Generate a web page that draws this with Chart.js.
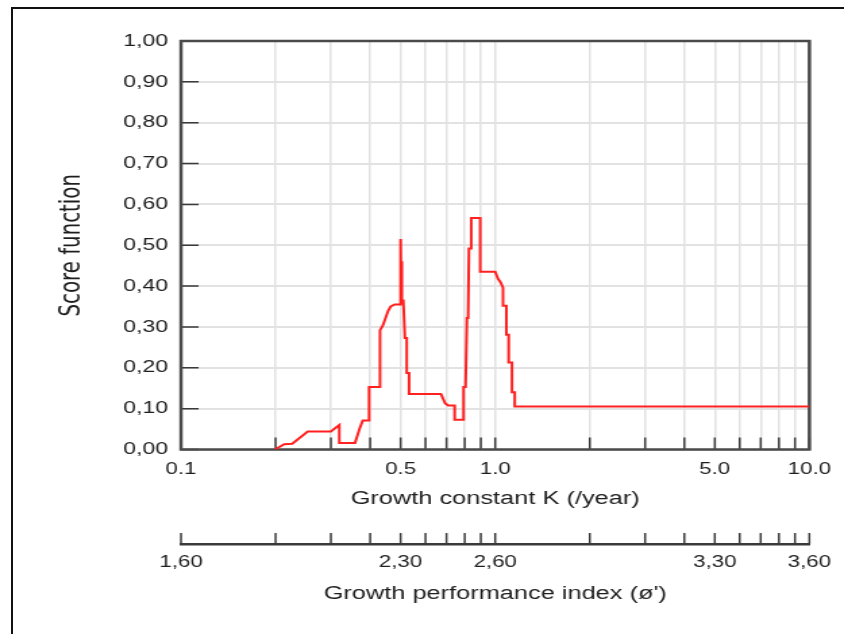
<!DOCTYPE html>
<html>
<head>
<meta charset="utf-8">
<script src="https://cdn.jsdelivr.net/npm/chart.js@4.4.1/dist/chart.umd.min.js"></script>
<style>
  html, body { margin: 0; padding: 0; background: #fff; }
  body { width: 844px; height: 634px; position: relative; overflow: hidden; }
  #frame { position: absolute; left: 11px; top: 7px; right: -10px; bottom: -10px;
           border-left: 2px solid #111; border-top: 2px solid #111; }
  /* the reference is stretched sideways, so the chart is drawn narrow and widened */
  #wrap { position: absolute; left: 0; top: 0; width: 625px; height: 634px;
          transform: scaleX(1.3504); transform-origin: 0 0; }
</style>
</head>
<body>
<div id="frame"></div>
<div id="wrap"><canvas id="c" width="625" height="634"></canvas></div>
<script>
// growth constant K (/year) and score function
const kValues = [0.199, 0.213, 0.226, 0.253, 0.300, 0.319, 0.319, 0.358, 0.371, 0.379,
  0.397, 0.397, 0.430, 0.430, 0.439, 0.446, 0.456, 0.465, 0.479, 0.499,
  0.500, 0.502, 0.503, 0.506, 0.510, 0.516, 0.523, 0.523, 0.532, 0.532,
  0.672, 0.693, 0.709, 0.743, 0.743, 0.793, 0.793, 0.805, 0.813, 0.820,
  0.825, 0.839, 0.839, 0.896, 0.896, 1.000, 1.021, 1.041, 1.059, 1.059,
  1.086, 1.086, 1.104, 1.104, 1.131, 1.131, 1.154, 1.154, 10];
const scoreValues = [0, 0.013, 0.014, 0.044, 0.044, 0.060, 0.016, 0.016, 0.053, 0.071,
  0.071, 0.153, 0.153, 0.292, 0.304, 0.318, 0.339, 0.350, 0.355, 0.355,
  0.515, 0.360, 0.461, 0.365, 0.365, 0.273, 0.273, 0.187, 0.187, 0.136,
  0.136, 0.113, 0.108, 0.108, 0.073, 0.073, 0.153, 0.153, 0.322, 0.322,
  0.492, 0.492, 0.567, 0.567, 0.435, 0.435, 0.418, 0.409, 0.396, 0.352,
  0.352, 0.281, 0.281, 0.213, 0.213, 0.140, 0.140, 0.105, 0.105];

// log axis grid positions and the labelled ones
const kGridValues = [0.1, 0.2, 0.3, 0.4, 0.5, 0.6, 0.7, 0.8, 0.9,
  1, 2, 3, 4, 5, 6, 7, 8, 9, 10];
const kTickValues = [0.1, 0.5, 1, 5, 10];
const kTickLabels = ['0.1', '0.5', '1.0', '5.0', '10.0'];
const phiTickLabels = ['1,60', '2,30', '2,60', '3,30', '3,60'];

const textColor = '#1e1e1e';
const gridColor = '#e2e2e2';
const axisColor = '#3a3a3a';
const sans = "'Liberation Sans', Arial, sans-serif";

function labelFor(value, labels) {
  const i = kTickValues.findIndex(v => Math.abs(v - value) / v < 1e-6);
  return i < 0 ? '' : labels[i];
}
function useGridTicks(scale) {
  scale.ticks = kGridValues.map(v => ({ value: v }));
}

// ticks that point into the plot, plus the plot frame
const innerTicks = {
  id: 'innerTicks',
  beforeDatasetsDraw(chart) {
    const { ctx, chartArea: a, scales: { x, x2, y } } = chart;
    ctx.save();
    ctx.strokeStyle = axisColor;
    ctx.lineWidth = 1.5;
    ctx.beginPath();
    x.ticks.forEach(t => {
      const p = x.getPixelForValue(t.value);
      ctx.moveTo(p, a.bottom);
      ctx.lineTo(p, a.bottom - 12);
    });
    x2.ticks.forEach(t => {
      const p = x2.getPixelForValue(t.value);
      ctx.moveTo(p, x2.top);
      ctx.lineTo(p, x2.top - 11);
    });
    y.ticks.forEach(t => {
      const p = y.getPixelForValue(t.value);
      ctx.moveTo(a.left, p);
      ctx.lineTo(a.left + 13, p);
    });
    ctx.stroke();
    ctx.lineWidth = 2.5;
    ctx.strokeStyle = '#4a4a4a';
    ctx.strokeRect(a.left, a.top, a.right - a.left, a.bottom - a.top);
    ctx.restore();
  }
};

new Chart(document.getElementById('c'), {
  type: 'line',
  data: {
    datasets: [{
      data: kValues.map((k, i) => ({ x: k, y: scoreValues[i] })),
      borderColor: '#ff2020',
      borderWidth: 2,
      pointRadius: 0,
      tension: 0,
      fill: false
    }]
  },
  options: {
    responsive: false,
    animation: false,
    layout: { padding: { left: 0, top: 41, right: 23.33, bottom: 0 } },
    plugins: { legend: { display: false }, tooltip: { enabled: false } },
    scales: {
      x: {
        type: 'logarithmic',
        min: 0.1,
        max: 10,
        weight: 0,
        afterBuildTicks: useGridTicks,
        afterFit: s => { s.height = 94.5; },
        grid: { color: gridColor, lineWidth: 1.5, drawTicks: false },
        border: { display: false },
        ticks: {
          autoSkip: false, maxRotation: 0, padding: 9.6, color: textColor,
          font: { family: sans, size: 16.5 },
          callback: v => labelFor(v, kTickLabels)
        },
        title: {
          display: true, text: 'Growth constant K (/year)', color: textColor,
          font: { family: sans, size: 18.8 }, padding: { top: 0, bottom: 33.7 }
        }
      },
      x2: {
        type: 'logarithmic',
        position: 'bottom',
        min: 0.1,
        max: 10,
        weight: 1,
        afterBuildTicks: useGridTicks,
        afterFit: s => { s.height = 90; },
        grid: { display: true, drawOnChartArea: false, drawTicks: false },
        border: { display: true, color: axisColor, width: 2.5 },
        ticks: {
          autoSkip: false, maxRotation: 0, padding: 8.1, color: textColor,
          font: { family: sans, size: 16.5 },
          callback: v => labelFor(v, phiTickLabels)
        },
        title: {
          display: true, text: 'Growth performance index (ø\')', color: textColor,
          font: { family: sans, size: 18.8 }, padding: { top: 0, bottom: 28.7 }
        }
      },
      y: {
        min: 0,
        max: 1,
        afterFit: s => { s.width = 134.03; },
        grid: { color: gridColor, lineWidth: 2, drawTicks: false },
        border: { display: false },
        ticks: {
          stepSize: 0.1, padding: 9.6, color: textColor,
          font: { family: sans, size: 17 },
          callback: v => v.toFixed(2).replace('.', ',')
        },
        title: {
          display: true, text: 'Score function', color: textColor,
          font: { family: "'Liberation Sans Narrow', 'DejaVu Sans Condensed', sans-serif", size: 22 },
          padding: { top: 40.1, bottom: 0 }
        }
      }
    }
  },
  plugins: [innerTicks]
});
</script>
</body>
</html>
